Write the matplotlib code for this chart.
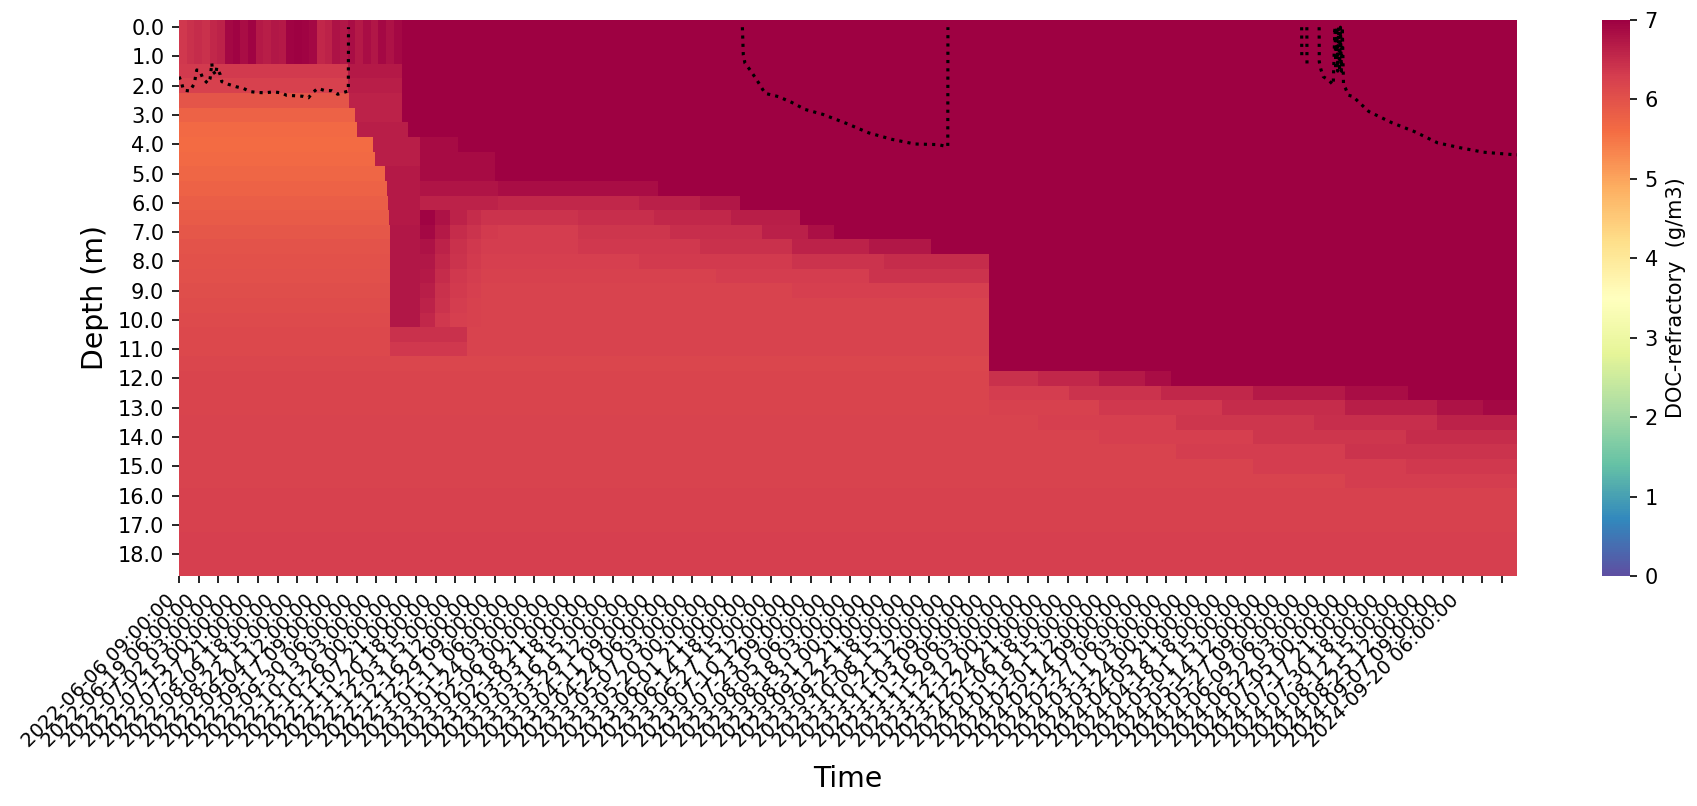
import numpy as np
import pandas as pd
import matplotlib
matplotlib.use("Agg")
import matplotlib.pyplot as plt
import seaborn as sns

# ---------------- data ----------------
start_time = "2022-06-06 09:00:00"
step_hours = 3
n_steps = 6981                          # 3-hourly model output
depths = np.arange(0.0, 19.0, 0.5)      # 38 layers 0.0 .. 18.5 m
tick_every = 103
n_ticks = 68
n_labels = 66

DARK = 7.3  # saturated (> vmax)

# surface layers (0.0-1.0 m) in summer/autumn 2022, 5-day bins
top_stripe_days = 5.0
top_stripe_end = 145.4
top_stripe = [6.35, 6.45, 6.5, 6.45, 6.55, 6.6, 6.9, 6.95, 6.85, 6.95,
              6.7, 6.65, 6.75, 6.7, 6.95, 7.0, 6.95, 6.9, 6.55, 6.6,
              6.8, 6.75, 6.85, 6.7, 6.85, 6.75, 6.9, 6.8, 6.9, 6.9]

# per-layer value changes: (day since start, value)
row_steps = [
    [(145.4, DARK)],                                                   # 0.0
    [(145.4, DARK)],                                                   # 0.5
    [(145.4, DARK)],                                                   # 1.0
    [(0, 6.32), (110.4, 6.7), (145.4, DARK)],                          # 1.5
    [(0, 6.25), (110.4, 6.65), (145.4, DARK)],                         # 2.0
    [(0, 5.95), (110.9, 6.6), (145.4, DARK)],                          # 2.5
    [(0, 5.75), (114.8, 6.6), (145.4, DARK)],                          # 3.0
    [(0, 5.65), (116.1, 6.65), (149.3, DARK)],                         # 3.5
    [(0, 5.62), (126.5, 6.65), (157.2, 6.88), (181.9, DARK)],          # 4.0
    [(0, 5.65), (127.8, 6.65), (157.2, 6.88), (206.0, DARK)],          # 4.5
    [(0, 5.70), (134.3, 6.7), (157.2, 6.88), (206.0, DARK)],           # 5.0
    [(0, 5.76), (135.6, 6.7), (157.2, 6.78), (207.7, 6.85), (312.4, DARK)],  # 5.5
    [(0, 5.82), (136.3, 6.7), (157.2, 6.6), (207.7, 6.55), (300, 6.62),
     (340, 6.75), (366, DARK)],                                        # 6.0
    [(0, 5.87), (136.9, 6.72), (157.2, 6.95), (167, 6.8), (177, 6.6),
     (187.8, 6.5), (197, 6.42), (207.7, 6.4), (260, 6.48), (310, 6.56),
     (360, 6.66), (405, DARK)],                                        # 6.5
    [(0, 5.92), (137.6, 6.75), (157.2, 6.9), (167, 6.7), (177, 6.5),
     (187.8, 6.4), (197, 6.33), (207.7, 6.3), (260, 6.38), (320, 6.48),
     (380, 6.62), (410, 6.82), (427, DARK)],                           # 7.0
    [(0, 5.97), (137.6, 6.75), (157.2, 6.8), (167, 6.6), (177, 6.45),
     (187.8, 6.35), (197, 6.3), (260, 6.35), (340, 6.45), (400, 6.6),
     (450, 6.75), (490, DARK)],                                        # 7.5
    [(0, 6.01), (137.6, 6.75), (157.2, 6.75), (167, 6.55), (177, 6.4),
     (187.8, 6.32), (197, 6.27), (300, 6.32), (400, 6.42), (460, 6.5),
     (528, DARK)],                                                     # 8.0
    [(0, 6.04), (137.6, 6.75), (157.2, 6.7), (167, 6.5), (177, 6.35),
     (187.8, 6.3), (197, 6.25), (350, 6.3), (450, 6.4), (528, DARK)],  # 8.5
    [(0, 6.07), (137.6, 6.75), (157.2, 6.65), (167, 6.45), (177, 6.32),
     (187.8, 6.27), (197, 6.23), (400, 6.28), (528, DARK)],            # 9.0
    [(0, 6.09), (137.6, 6.75), (157.2, 6.6), (167, 6.4), (177, 6.3),
     (187.8, 6.25), (197, 6.22), (528, DARK)],                         # 9.5
    [(0, 6.11), (137.6, 6.75), (157.2, 6.55), (167, 6.35), (177, 6.28),
     (187.8, 6.25), (197, 6.22), (528, DARK)],                         # 10.0
    [(0, 6.13), (137.6, 6.45), (187.8, 6.22), (528, DARK)],            # 10.5
    [(0, 6.15), (137.6, 6.35), (187.8, 6.22), (528, DARK)],            # 11.0
    [(0, 6.17), (528, DARK)],                                          # 11.5
    [(0, 6.18), (528, 6.45), (560, 6.55), (600, 6.7), (630, 6.85),
     (647, DARK)],                                                     # 12.0
    [(0, 6.19), (528, 6.3), (580, 6.4), (640, 6.55), (700, 6.7),
     (760, 6.85), (801, DARK)],                                        # 12.5
    [(0, 6.2), (528, 6.25), (600, 6.35), (680, 6.5), (760, 6.65),
     (820, 6.8), (850, 6.9)],                                          # 13.0
    [(0, 6.21), (560, 6.28), (650, 6.38), (740, 6.48), (820, 6.6)],    # 13.5
    [(0, 6.22), (600, 6.28), (700, 6.38), (800, 6.5)],                 # 14.0
    [(0, 6.22), (650, 6.3), (760, 6.4)],                               # 14.5
    [(0, 6.23), (700, 6.3), (800, 6.36)],                              # 15.0
    [(0, 6.23), (760, 6.3)],                                           # 15.5
    [(0, 6.24)],                                                       # 16.0
    [(0, 6.25)],                                                       # 16.5
    [(0, 6.26)],                                                       # 17.0
    [(0, 6.27)],                                                       # 17.5
    [(0, 6.28)],                                                       # 18.0
    [(0, 6.28)],                                                       # 18.5
]

nan = np.nan
# dotted line (mixing depth), day since start / depth (m); NaN = gap
line_day = [0.07, 1.83, 2.87, 7.24, 8.34, 10.04, 10.95, 11.6, 13.75, 15.5,
            18.8, 20.3, 21.4, 21.8, 24.0, 24.6, 26.8, 27.9, 32.2, 37.0,
            42.0, 46.3, 51.4, 56.1, 61.5, 66.6, 70.3, 75.2, 80.7, 84.4,
            87.2, 90.5, 94.8, 99.6, 103.5, 107.2, 110.4, 110.5, nan,
            367.3, 367.9, 369.0, 372.3, 376.7, 382.1, 390.7, 399.5, 408.2,
            419.9, 434.8, 449.7, 464.7, 479.7, 494.6, 501.2, 501.3, nan,
            731.9, 732.0, nan, 735.3, 735.4, nan,
            743.3, 743.4, 744.5, 746.0, 749.3, 752.5, 753.6, 754.2, 754.8,
            755.4, 756.0, 756.6, 757.2, 757.8, 758.4, 759.2, 760.5, 762.3,
            765.5, 768.8, 775.7, 790.6, 805.6, 820.5, 835.5, 850.4, 871.4,
            872.5]
line_depth = [1.69, 1.92, 2.15, 2.18, 2.07, 1.92, 1.63, 1.46, 1.50, 1.75,
              1.92, 1.75, 1.23, 1.46, 1.63, 1.38, 1.61, 1.86, 1.95, 2.03,
              2.09, 2.20, 2.23, 2.24, 2.21, 2.24, 2.33, 2.34, 2.36, 2.41,
              2.23, 2.09, 2.16, 2.17, 2.29, 2.23, 2.18, 0.0, nan,
              0.0, 0.95, 1.23, 1.46, 1.80, 2.26, 2.37, 2.57, 2.81,
              2.98, 3.28, 3.61, 3.83, 3.99, 4.01, 4.08, 0.0, nan,
              0.0, 1.1, nan, 0.0, 1.35, nan,
              0.0, 1.18, 1.45, 1.69, 1.80, 1.97, 0.0, 1.45, 0.0,
              1.5, 0.0, 1.5, 0.0, 1.5, 0.0, 1.97, 2.09, 2.32,
              2.37, 2.54, 2.88, 3.26, 3.57, 3.95, 4.12, 4.27, 4.36,
              4.36]

# ---------------- build field ----------------
n_rows = len(depths)
day_of_col = np.arange(n_steps) * step_hours / 24.0
field = np.full((n_rows, n_steps), np.nan)
for r, steps in enumerate(row_steps):
    for day, val in steps:
        field[r, day_of_col >= day] = val
stripe_arr = np.array(top_stripe)
mask = day_of_col < top_stripe_end
idx = (day_of_col[mask] // top_stripe_days).astype(int)
for r in range(3):
    field[r, mask] = stripe_arr[idx]

times = pd.date_range(start_time, periods=n_steps, freq=f"{step_hours}h")

# ---------------- plot ----------------
W, H, DPI = 1697, 806, 150
fig = plt.figure(figsize=(W / DPI, H / DPI), dpi=DPI)
ax_l, ax_r, ax_t, ax_b = 178.9, 1517.4, 19.9, 576.0
ax = fig.add_axes([ax_l / W, 1 - ax_b / H, (ax_r - ax_l) / W, (ax_b - ax_t) / H])
cax = fig.add_axes([1602 / W, 1 - ax_b / H, 28 / W, (ax_b - ax_t) / H])

sns.heatmap(field, ax=ax, cbar_ax=cax, cmap="Spectral_r", vmin=0, vmax=7,
            xticklabels=False, yticklabels=False,
            cbar_kws={"label": "DOC-refractory  (g/m3)"})

ax.plot(np.array(line_day) * 24 / step_hours + 0.5,
        np.array(line_depth) / 0.5 + 0.5,
        linestyle=":", color="black", linewidth=1.5)

tick_pos = np.arange(n_ticks) * tick_every + 0.5
tick_lab = [times[i * tick_every].strftime("%Y-%m-%d %H:%M:%S") for i in range(n_labels)]
tick_lab += [""] * (n_ticks - n_labels)
ax.set_xticks(tick_pos)
ax.set_xticklabels(tick_lab, rotation=45, ha="right", fontsize=9.4)
ax.set_yticks(np.arange(0, n_rows, 2) + 0.5)
ax.set_yticklabels([f"{d:.1f}" for d in depths[::2]], rotation=0, fontsize=10)
ax.tick_params(axis="both", length=3.5, width=0.8)
ax.set_xlim(0, n_steps)
ax.set_ylim(n_rows, 0)

ax.set_xlabel("Time", fontsize=13.6, labelpad=7)
ax.set_ylabel("Depth (m)", fontsize=13.6)

cax.tick_params(labelsize=10)
cax.yaxis.label.set_size(10)

fig.savefig("out.png", dpi=DPI)
